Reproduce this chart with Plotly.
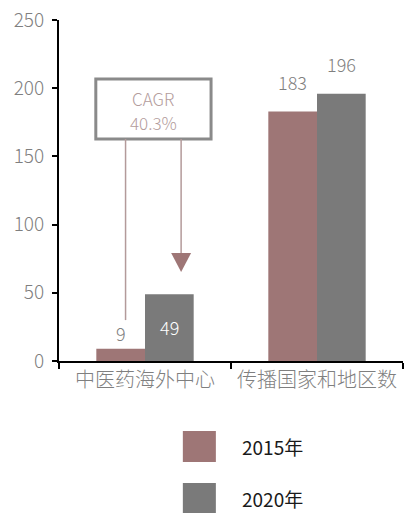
import plotly.graph_objects as go

categories = ["中医药海外中心", "传播国家和地区数"]
series_names = ["2015年", "2020年"]
values_2015 = [9, 183]
values_2020 = [49, 196]
cagr_lines = ["CAGR", "40.3%"]
colors = ["#9E7676", "#7A7A7A"]

FONT = "Noto Sans CJK SC, Noto Sans, sans-serif"
GRAY = "#7F7F7F"

fig = go.Figure()
fig.add_trace(go.Bar(x=categories, y=values_2015, name=series_names[0],
                     marker=dict(color=colors[0], line=dict(width=0)), showlegend=False))
fig.add_trace(go.Bar(x=categories, y=values_2020, name=series_names[1],
                     marker=dict(color=colors[1], line=dict(width=0)), showlegend=False))

bw = 0.283  # bar width in category units
off = bw / 2

annotations = []
# data labels
lab_specs = [
    (0 - off, values_2015[0], 16, GRAY),
    (1 - off, values_2015[1], 29, GRAY),
    (0 + off, values_2020[0], -33, "white"),
    (1 + off, values_2020[1], 30, GRAY),
]
for x, v, ys, c in lab_specs:
    annotations.append(dict(x=x, y=v, xref="x", yref="y", text=str(v), showarrow=False,
                            yshift=ys, font=dict(size=18, color=c, family=FONT, weight=300)))

# CAGR box text
for txt, yy in zip(cagr_lines, [192.1, 174.5]):
    annotations.append(dict(x=0.049, y=yy, xref="x", yref="y", text=txt, showarrow=False,
                            font=dict(size=17, color="#B39C9C", family=FONT, weight=300)))

# legend text
for i, name in enumerate(series_names):
    annotations.append(dict(x=0.527, y=[-0.251, -0.404][i], xref="paper", yref="paper",
                            text=name, showarrow=False, xanchor="left", yanchor="middle",
                            font=dict(size=19, color="#1a1a1a", family=FONT)))

shapes = [
    # CAGR box
    dict(type="rect", xref="x", yref="y", x0=-0.286, x1=0.384, y0=162.8, y1=206.7,
         line=dict(color="#8A8A8A", width=3), fillcolor="white", layer="above"),
    # left line
    dict(type="line", xref="x", yref="y", x0=-0.113, x1=-0.113, y0=162.8, y1=30,
         line=dict(color="#B39A9A", width=1.5)),
    # right line
    dict(type="line", xref="x", yref="y", x0=0.21, x1=0.21, y0=162.8, y1=79,
         line=dict(color="#B39A9A", width=1.5)),
    # arrowhead
    dict(type="path", xref="x", yref="y",
         path="M 0.152 79.2 L 0.268 79.2 L 0.21 65.3 Z",
         fillcolor="#9E7676", line=dict(width=0)),
]
# legend squares
for i in range(2):
    y0, y1 = [(-0.296, -0.205), (-0.449, -0.358)][i]
    shapes.append(dict(type="rect", xref="paper", yref="paper", x0=0.360, x1=0.456,
                       y0=y0, y1=y1, fillcolor=colors[i], line=dict(width=0)))

fig.update_layout(
    width=405, height=513,
    margin=dict(l=59, r=2, t=20, b=152, autoexpand=False),
    paper_bgcolor="white", plot_bgcolor="white",
    barmode="group", bargap=0.434, bargroupgap=0,
    annotations=annotations, shapes=shapes,
    font=dict(family=FONT, color=GRAY),
    hovermode=False,
    xaxis=dict(type="category", tickson="boundaries", showline=True, linecolor="black",
               linewidth=2, ticks="outside", ticklen=6, tickwidth=2, tickcolor="black",
               showgrid=False, zeroline=False, range=[-0.5, 1.5], automargin=False,
               tickfont=dict(size=20, color=GRAY, family=FONT, weight=300)),
    yaxis=dict(range=[0, 250], tickvals=[0, 50, 100, 150, 200, 250], showline=True,
               linecolor="black", linewidth=2, ticks="outside", ticklen=5, tickwidth=2,
               tickcolor="black", showgrid=False, zeroline=False, automargin=False,
               ticklabeloverflow="allow", ticklabelstandoff=4,
               tickfont=dict(size=19, color=GRAY, family=FONT, weight=300)),
)

fig.write_html("out.html", config={"displayModeBar": False},
               post_script="document.body.style.margin='0';document.body.style.overflow='hidden';")
